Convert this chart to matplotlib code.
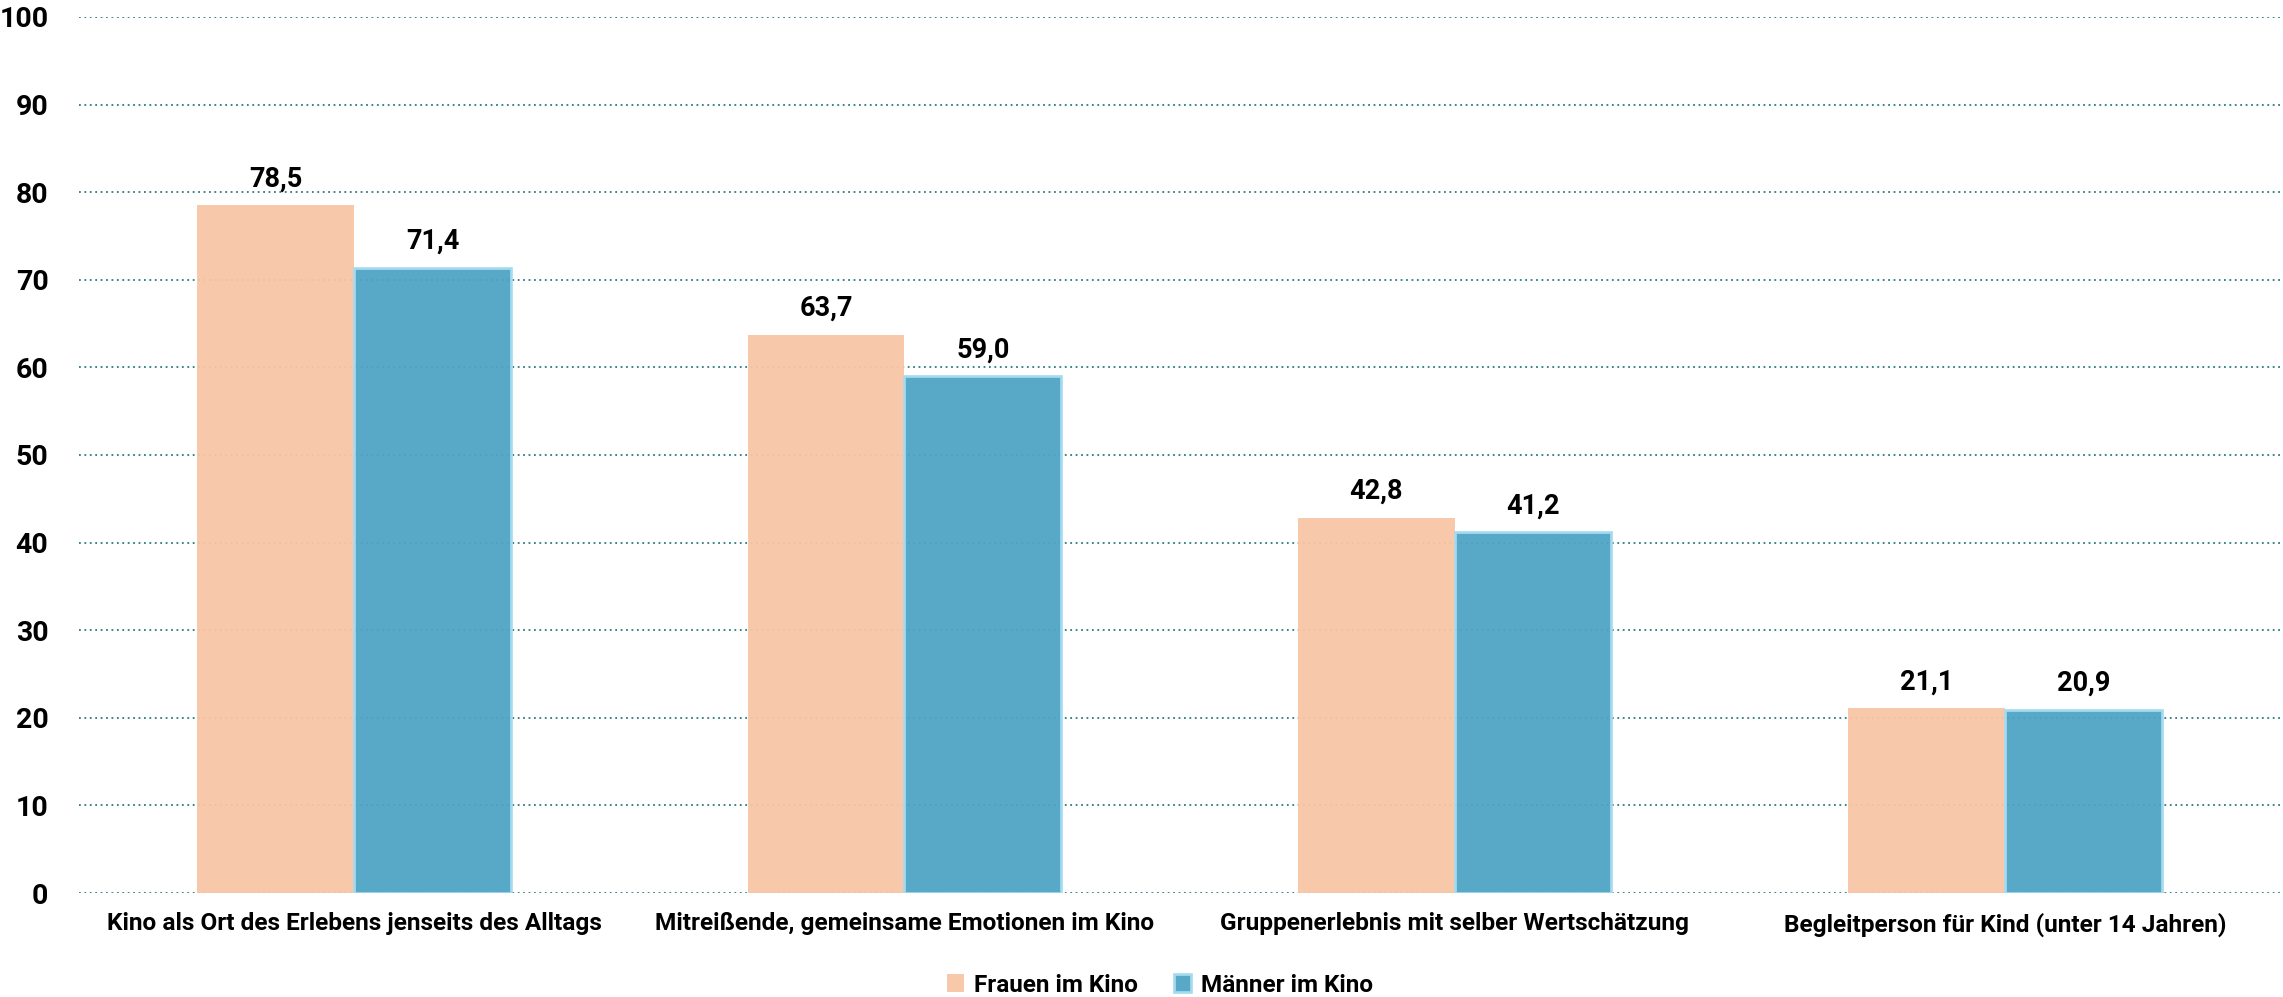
import matplotlib
matplotlib.use("Agg")
from matplotlib import pyplot as plt
import numpy as np

categories = ["Kino als Ort des Erlebens jenseits des Alltags",
              "Mitreißende, gemeinsame Emotionen im Kino",
              "Gruppenerlebnis mit selber Wertschätzung",
              "Begleitperson für Kind (unter 14 Jahren)"]
frauen = [78.5, 63.7, 42.8, 21.1]
maenner = [71.4, 59.0, 41.2, 20.9]
series_names = ["Frauen im Kino", "Männer im Kino"]
yticks = [0, 10, 20, 30, 40, 50, 60, 70, 80, 90, 100]

plt.rcParams['font.family'] = ['Roboto', 'DejaVu Sans']
plt.rcParams['font.weight'] = 'bold'

fig = plt.figure(figsize=(22.83, 9.97), dpi=100)
ax = fig.add_axes([0.0346, 0.1043, 0.9641, 0.8787])

x = np.arange(len(categories))
w = 0.285
b1 = ax.bar(x - w/2, frauen, w, color="#F8C5A6", alpha=0.95, zorder=3,
            label=series_names[0])
b2 = ax.bar(x + w/2, maenner, w, color="#4FA3C4", alpha=0.95, edgecolor="#A6DBF0",
            linewidth=2, zorder=3, label=series_names[1])

for bars in (b1, b2):
    for r in bars:
        h = r.get_height()
        ax.annotate(f"{h:.1f}".replace(".", ","), (r.get_x() + r.get_width()/2, h),
                    xytext=(0, 19), textcoords="offset points", ha="center",
                    va="center", fontsize=19.5, fontweight="bold")

ax.set_ylim(0, 100)
ax.set_xlim(-0.5, 3.5)
ax.set_yticks(yticks)
ax.set_xticks(x)
ax.set_xticklabels(categories, fontsize=17.6, fontweight="bold")
ax.tick_params(axis="y", labelsize=20.5, length=0, pad=22)
ax.tick_params(axis="x", length=0, pad=14)
ax.yaxis.grid(True, linestyle=(0, (1, 2)), color="#2E7A80", linewidth=1.3, zorder=1)
ax.set_axisbelow(True)
for s in ax.spines.values():
    s.set_visible(False)

fig.legend(loc="center", bbox_to_anchor=(1160/2283, 1 - 985/997), ncol=2, frameon=False,
           fontsize=17.5, handlelength=0.7, handleheight=0.7, columnspacing=1.5,
           handletextpad=0.4)

fig.savefig("out.png", dpi=100)
